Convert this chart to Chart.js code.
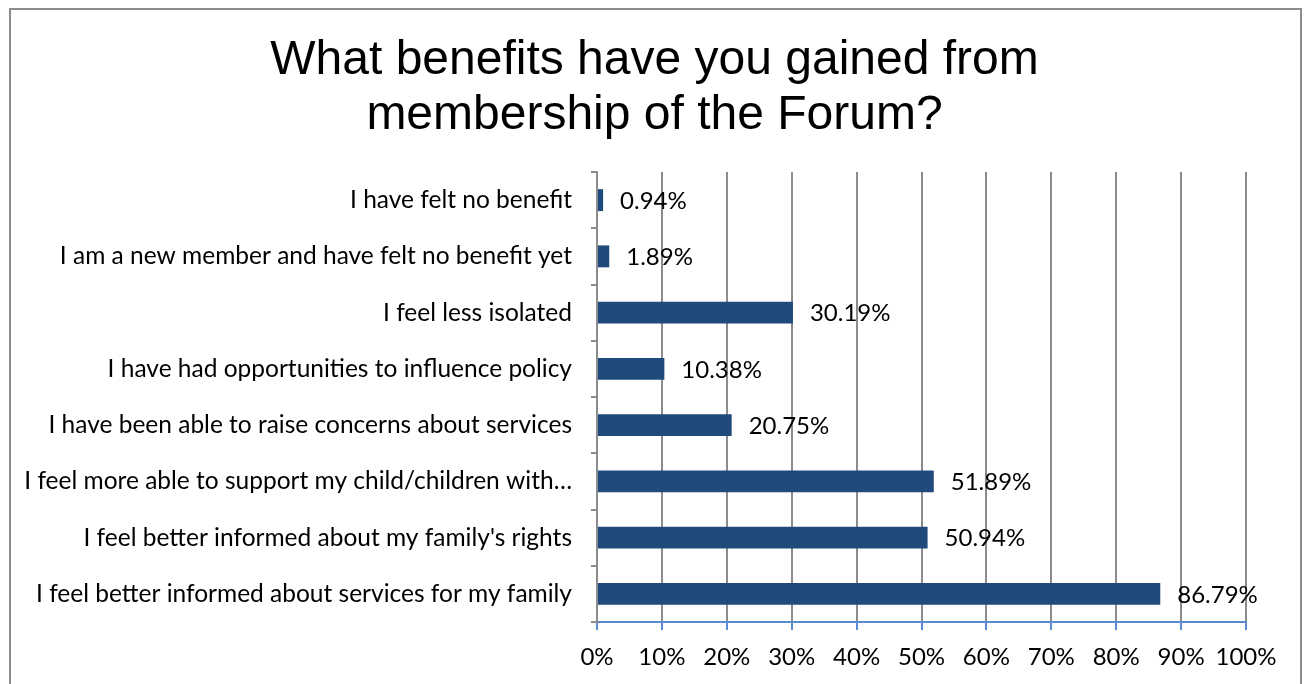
<!DOCTYPE html>
<html>
<head>
<meta charset="utf-8">
<script src="https://cdn.jsdelivr.net/npm/chart.js@4"></script>
<style>
    html, body { margin: 0; padding: 0; background: #fff; }
    .frame {
        position: absolute; left: 9px; top: 8px; width: 1293px; height: 700px;
        border: 2px solid #8c8c8c; box-sizing: border-box;
    }
    .title {
        position: absolute; left: 0; top: 30px; width: 1309px; text-align: center;
        font: 48px/55px "Liberation Sans", Arial, sans-serif; color: #000;
    }
    canvas { position: absolute; left: 0; top: 0; }
</style>
</head>
<body>
<div class="frame"></div>
<canvas id="benefitsChart" width="1309" height="684"></canvas>
<div class="title">What benefits have you gained from<br>membership of the Forum?</div>
<script>
// Survey answers, listed top to bottom
const benefits = [
    'I have felt no benefit',
    'I am a new member and have felt no benefit yet',
    'I feel less isolated',
    'I have had opportunities to influence policy',
    'I have been able to raise concerns about services',
    'I feel more able to support my child/children with\u2026',
    "I feel better informed about my family's rights",
    'I feel better informed about services for my family'
];
const percentages = [0.94, 1.89, 30.19, 10.38, 20.75, 51.89, 50.94, 86.79];
const axisTicks = [0, 10, 20, 30, 40, 50, 60, 70, 80, 90, 100];

const LABEL_FONT = 'Lato, "Open Sans", sans-serif';

// writes the percentage just past the end of each bar
const valueLabels = {
    id: 'valueLabels',
    afterDatasetsDraw(chart) {
        const ctx = chart.ctx;
        const meta = chart.getDatasetMeta(0);
        ctx.save();
        ctx.font = '24px ' + LABEL_FONT;
        ctx.fillStyle = '#000';
        ctx.textAlign = 'left';
        ctx.textBaseline = 'middle';
        meta.data.forEach((bar, i) => {
            ctx.fillText(percentages[i].toFixed(2) + '%', bar.x + 17, bar.y + 1);
        });
        ctx.restore();
    }
};

const ctx = document.getElementById('benefitsChart').getContext('2d');
new Chart(ctx, {
    type: 'bar',
    data: {
        labels: benefits,
        datasets: [{
            data: percentages,
            backgroundColor: '#214a7c',
            borderWidth: 0,
            categoryPercentage: 1,
            barPercentage: 0.39
        }]
    },
    options: {
        indexAxis: 'y',
        responsive: false,
        animation: false,
        layout: { padding: { left: 0, right: 63, top: 172, bottom: 0 } },
        plugins: {
            legend: { display: false },
            tooltip: { enabled: false },
            title: { display: false }
        },
        scales: {
            x: {
                min: 0,
                max: 100,
                afterBuildTicks(scale) {
                    scale.ticks = axisTicks.map(v => ({ value: v }));
                },
                afterFit(scale) { scale.height = 62; },
                border: { color: '#5b8bd0', width: 2 },
                grid: {
                    color: '#8c8c8c',
                    lineWidth: 2,
                    tickColor: '#5b8bd0',
                    tickLength: 8
                },
                ticks: {
                    padding: 13,
                    color: '#000',
                    autoSkip: false,
                    minRotation: 0,
                    maxRotation: 0,
                    font: { family: LABEL_FONT, size: 24 },
                    callback: v => v + '%'
                }
            },
            y: {
                afterFit(scale) { scale.width = 597; },
                border: { color: '#8c8c8c', width: 2 },
                grid: {
                    drawOnChartArea: false,
                    color: '#8c8c8c',
                    lineWidth: 2,
                    tickLength: 6
                },
                ticks: {
                    padding: 19,
                    color: '#000',
                    autoSkip: false,
                    font: { family: LABEL_FONT, size: 24.5 }
                }
            }
        }
    },
    plugins: [valueLabels]
});
</script>
</body>
</html>
